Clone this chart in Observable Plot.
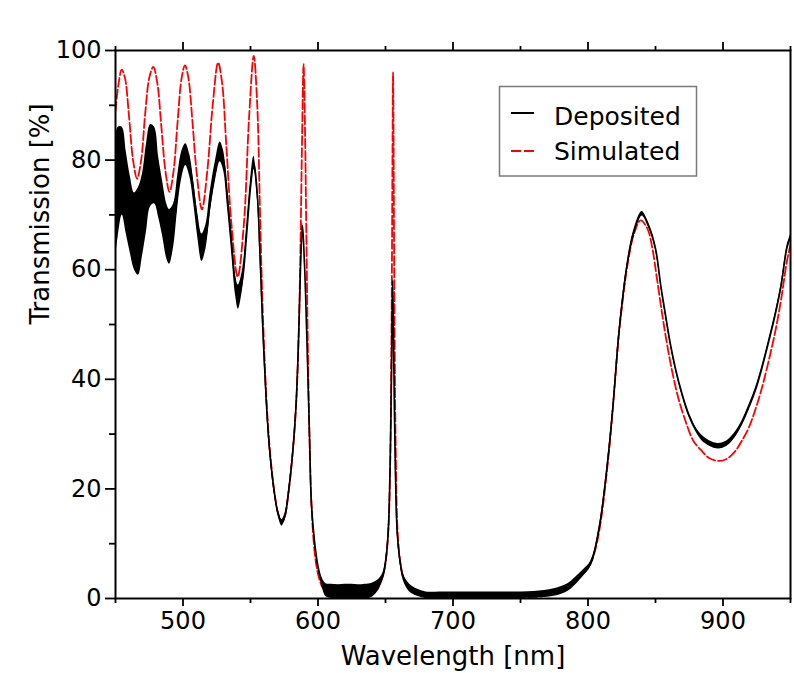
<!DOCTYPE html>
<html><head><meta charset="utf-8">
<script src="https://cdn.jsdelivr.net/npm/d3@7"></script>
<script src="https://cdn.jsdelivr.net/npm/@observablehq/plot@0.6"></script>
<style>
body{margin:0;background:#fff;}
#wrap{position:relative;width:794px;height:673px;font-family:"DejaVu Sans",sans-serif;overflow:hidden;}
#legend{position:absolute;left:0;top:0;pointer-events:none;}
</style></head><body><div id="wrap"></div>
<script>
// Simulated transmission (red dashed)
const simWl = [450,452,454.6,457,460,463,466,469,472,475,478,481,484,487,490,493,496,499,501.5,504,507,510,514,518,522,526,529,532,536,540.5,545,549,552.4,555,557,559,561.7,564.2,567.9,570.5,573.3,575.5,577.7,581.4,583.9,585.8,587,588.2,589.3,590.4,591.4,592.5,593.8,595.2,596.6,598.5,600.5,603,607,612,620,630,640,645,648,650,652,653.5,654.5,655.2,655.6,656.0,656.7,657.7,659,661,663,666,670,680,700,750,770,780,790,796,802,806,810,813,816,818,820.5,823,826,829,834,839,844,847.6,851,855,858.5,862.3,867,872.2,878,884.4,890,897.3,903,909.1,914,919,924,928.8,933.5,938.7,943,947.3,950];
const simT = [89,93.5,96.5,95,88,80,76.6,80,88.5,95,97,94,86,78,74.2,78,87,95,97.3,95,87,78,71,78,90,97.8,94,83,68,58.7,68,88,99,90,71,53,37,27.5,19,15.5,13.8,15,18.4,27,36,49,64,84,97.5,85,66,46,28,17,11,6.5,4,2.2,1,0.4,0.1,0.2,0.8,2.2,4,6.5,12,25,50,82,96,82,50,25,12,6.5,4,2.3,1.2,0.3,0.05,0.05,0.6,1.5,3.2,4.5,6.5,9.5,15,21,28,33.6,41,48.5,55,60.5,66.5,69,67.5,64,58.5,51.8,46.5,41.5,36.5,32.4,28.8,26.9,25.6,25.1,25.5,26.9,28.8,31.1,34.5,38.4,43,48.7,54.5,61.5,64.5];

// Deposited transmission (black): centre value and read-off noise half-width
const depWl = [450,452,455,458,461,464,467,470,473,476,479,482,485,488,490,493,496,499,502,505,508,511,514,517,520,524,527.5,530,533,536,539,541,544,547,550,552.5,555,557,559,561.7,564.2,567.9,570.5,573.3,575.5,577.7,581.4,583.9,585.8,587,588.5,589.5,590.5,591.8,593.8,595,597.4,599.9,603,606,610,615,620,625,630,635,640,645,648,650,652,653.5,654.5,655.3,656.2,657.2,658.7,661,663,666,670,680,690,700,720,740,760,775,785,790,796,802,808,813,818,823,829,834,840,845,850,854,857.4,861,864.8,869.5,874.6,879.5,884.4,890,896.8,903,909.1,914,919,924,928.8,933.5,938.7,943,947.3,950];
const depT = [73,76,78,74,70,67,67,70,75,79,
  79,75,71,67,66,68,74,79,81,79,
  74,68,64,66,72,78,81.5,80,73,65,
  57,55,58,66,75,79.5,74,63,50,36,
  27,19,15.5,13.8,15,18.4,27,36,49,60,
  68,64,58,47,29,18,10.5,6,3,1.5,
  1.3,1.2,1.3,1.3,1.2,1.3,1.5,2.5,4,6.5,
  12,25,42,58,42,25,12,6.5,4,2.5,
  1.5,0.6,0.6,0.6,0.6,0.6,0.7,1.1,2,3,
  4.5,6.3,
  12.4,21.5,33.6,48.7,60.9,66.9,70.2,68,63.9,57,51.8,46.5,42,37.5,33.6,31,29.3,28.3,27.8,28.3,29.9,32,34.8,38,42,46.5,51.8,57,63.9,66];
const depNoise = [11,10,8,7.5,7,7,8,7.5,8,7.5,
  7,5.5,5,5,5,4,3,2.5,2,2,
  2,2.2,2.5,2.2,2,1.8,1.8,1.8,1.8,1.8,
  1.8,2.2,1.8,1.5,1.3,1.2,1,0.8,0.6,0.5,
  0.5,0.5,0.5,0.6,0.5,0.5,0.4,0.4,0.4,0.4,
  0.5,0.4,0.4,0.4,0.4,0.4,0.4,0.5,0.8,1.2,
  1.3,1.3,1.3,1.3,1.3,1.3,1.3,1,0.6,0.5,
  0.5,0.5,0.5,0.5,0.5,0.5,0.5,0.5,0.6,0.7,
  0.7,0.6,0.6,0.6,0.6,0.6,0.6,0.7,0.7,0.7,
  0.6,0.5,
  0.4,0.4,0.4,0.4,0.4,0.4,0.4,0.4,0.4,0.4,0.4,0.4,0.4,0.4,0.4,0.4,0.5,0.5,0.5,0.5,0.5,0.4,0.4,0.4,0.4,0.4,0.4,0.4,0.4,0.4];

const xMajor = [500,600,700,800,900];
const xMinor = [450,550,650,750,850,950];
const yMajor = [0,20,40,60,80,100];
const yMinor = [10,30,50,70,90];
const seriesNames = ["Deposited","Simulated"];
const xLabel = "Wavelength [nm]";
const yLabel = "Transmission [%]";

const simData = simWl.map((x,i)=>({x, y: simT[i]}));
const depData = depWl.map((x,i)=>({x, y: depT[i], lo: Math.max(0, depT[i]-depNoise[i]), hi: Math.min(100, depT[i]+depNoise[i])}));

const chart = Plot.plot({
  width:794, height:673, marginLeft:115, marginRight:4, marginTop:50, marginBottom:75,
  style:{fontFamily:"'DejaVu Sans', sans-serif", fontSize:"24px", color:"black", background:"white"},
  x:{domain:[450,950]}, y:{domain:[0,100]},
  marks:[
    Plot.line(simData,{x:"x",y:"y",stroke:"#ff0000",strokeWidth:1.8,strokeDasharray:"9,3",curve:"catmull-rom",clip:true}),
    Plot.areaY(depData,{x:"x",y1:"lo",y2:"hi",fill:"black",curve:"catmull-rom",clip:true}),
    Plot.line(depData,{x:"x",y:"y",stroke:"black",strokeWidth:1.6,curve:"catmull-rom",clip:true}),
    Plot.frame({stroke:"black",strokeWidth:2}),
    Plot.axisX(xMajor,{anchor:"bottom",tickSize:8,tickPadding:5,fontSize:24,label:null,strokeWidth:1.8,tickFormat:d=>String(d)}),
    Plot.axisX(xMinor,{anchor:"bottom",tickSize:5,text:null,label:null,strokeWidth:1.8}),
    Plot.axisX(xMajor,{anchor:"top",tickSize:9,text:null,label:null,strokeWidth:1.8}),
    Plot.axisX(xMinor,{anchor:"top",tickSize:5,text:null,label:null,strokeWidth:1.8}),
    Plot.axisY(yMajor,{anchor:"left",tickSize:10,tickPadding:4,fontSize:24,label:null,strokeWidth:1.8,tickFormat:d=>String(d)}),
    Plot.axisY(yMinor,{anchor:"left",tickSize:6,text:null,label:null,strokeWidth:1.8}),
    Plot.text([xLabel],{text:d=>d,frameAnchor:"bottom",dy:58,fontSize:26,lineAnchor:"middle"}),
    Plot.text([yLabel],{text:d=>d,frameAnchor:"left",dx:-75,rotate:-90,fontSize:26,lineAnchor:"middle"})
  ]
});
const wrap = document.getElementById("wrap");
wrap.appendChild(chart);

// Legend overlay
const ns = "http://www.w3.org/2000/svg";
const lg = document.createElementNS(ns,"svg");
lg.setAttribute("id","legend");
lg.setAttribute("width","794"); lg.setAttribute("height","673");
lg.innerHTML = `
<rect x="499.5" y="86.5" width="197" height="89.5" fill="white" stroke="#7a7a7a" stroke-width="1.5"/>
<line x1="511" x2="534" y1="113" y2="113" stroke="black" stroke-width="2"/>
<line x1="511" x2="535" y1="151" y2="151" stroke="#ff0000" stroke-width="2" stroke-dasharray="10,3"/>
<text x="554" y="125" font-family="DejaVu Sans" font-size="25" fill="black">${seriesNames[0]}</text>
<text x="554" y="160" font-family="DejaVu Sans" font-size="25" fill="black">${seriesNames[1]}</text>`;
wrap.appendChild(lg);
</script></body></html>
